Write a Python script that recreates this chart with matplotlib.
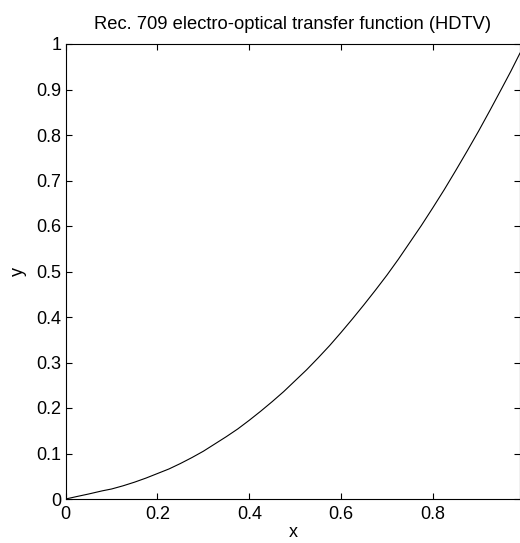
import matplotlib
matplotlib.use("Agg")
import matplotlib.pyplot as plt

# values
x_vals = [0.0, 0.025, 0.05, 0.08, 0.1, 0.125, 0.15, 0.175, 0.2, 0.225, 0.25, 0.275,
          0.3, 0.325, 0.35, 0.375, 0.4, 0.425, 0.45, 0.475, 0.5, 0.525,
          0.55, 0.575, 0.6, 0.625, 0.65, 0.675, 0.7, 0.725, 0.75, 0.775,
          0.8, 0.825, 0.85, 0.875, 0.9, 0.925, 0.95, 0.97, 0.99]
y_vals = [0.0, 0.0056, 0.011, 0.018, 0.022, 0.029, 0.037, 0.046, 0.056, 0.066, 0.078, 0.091,
          0.105, 0.121, 0.137, 0.154, 0.173, 0.193, 0.214, 0.236, 0.260, 0.284,
          0.310, 0.337, 0.366, 0.396, 0.427, 0.459, 0.492, 0.527, 0.564, 0.601,
          0.640, 0.680, 0.722, 0.765, 0.809, 0.855, 0.902, 0.940, 0.980]
x_ticks = [0, 0.2, 0.4, 0.6, 0.8]
x_tick_labels = ["0", "0.2", "0.4", "0.6", "0.8"]
y_ticks = [0, 0.1, 0.2, 0.3, 0.4, 0.5, 0.6, 0.7, 0.8, 0.9, 1]
y_tick_labels = ["0", "0.1", "0.2", "0.3", "0.4", "0.5", "0.6", "0.7", "0.8", "0.9", "1"]
title = "Rec. 709 electro-optical transfer function (HDTV)"

plt.rcParams['font.family'] = ['Liberation Sans', 'DejaVu Sans']
fig = plt.figure(figsize=(5.2, 5.43), dpi=100)
top_px, bot_px, left_px = 44, 499, 65.7
ax = fig.add_axes([left_px/520, (543-bot_px)/543, (520-left_px)/520, (bot_px-top_px)/543])
ax.plot(x_vals, y_vals, color='black', linewidth=0.8)
ax.set_xlim(0, 0.99)
ax.set_ylim(0, 1)
ax.set_xticks(x_ticks)
ax.set_xticklabels(x_tick_labels)
ax.set_yticks(y_ticks)
ax.set_yticklabels(y_tick_labels)
ax.tick_params(direction='in', top=True, right=True, length=4, width=0.8,
               labelsize=13)
ax.tick_params(axis='x', pad=5)
ax.tick_params(axis='y', pad=3)
for s in ax.spines.values():
    s.set_linewidth(0.8)
ax.set_title(title, fontsize=13.2, pad=11)
ax.set_xlabel("x", fontsize=13, labelpad=1)
ax.set_ylabel("y", fontsize=13, labelpad=7)
fig.savefig("out.png", dpi=100)
